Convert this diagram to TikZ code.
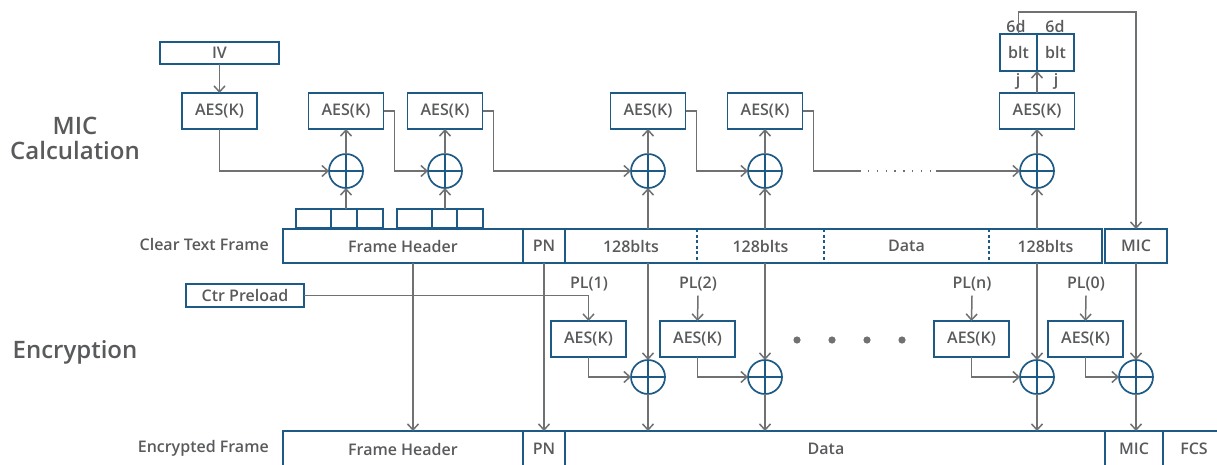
\documentclass[tikz,border=0pt]{standalone}
\usepackage{fontspec}
\IfFontExistsTF{Open Sans SemiBold}{\setmainfont{Open Sans SemiBold}}{%
  \IfFontExistsTF{Open Sans Semibold}{\setmainfont{Open Sans Semibold}}{%
    \setmainfont{Open Sans}[UprightFont=* Bold]}}
\usetikzlibrary{arrows.meta,calc}
\definecolor{bx}{HTML}{1D5A86}
\definecolor{ln}{HTML}{707173}
\definecolor{tx}{HTML}{595A5C}
\begin{document}
\begin{tikzpicture}[x=1pt,y=-1pt,
  font=\fontsize{16}{18}\selectfont, text=tx,
  box/.style={draw=bx,line width=1.7pt,inner sep=0pt,outer sep=0pt,fill=white},
  aes/.style={box,minimum width=75pt,minimum height=36pt},
  cell/.style={inner sep=0pt,outer sep=0pt,minimum height=34pt},
  frame/.style={draw=bx,line width=1.7pt},
  xor/.style={circle,draw=bx,line width=1.7pt,minimum size=34pt,inner sep=0pt,outer sep=0pt,
    path picture={\draw[bx,line width=1.7pt] (path picture bounding box.north)--(path picture bounding box.south)
      (path picture bounding box.west)--(path picture bounding box.east);}},
  arr/.style={draw=ln,line width=1.5pt,-{Straight Barb[length=6pt,width=11pt,line width=1.5pt]}},
  lnk/.style={draw=ln,line width=1.5pt},
  title/.style={font=\fontsize{24}{25}\selectfont,align=center},
]
\useasboundingbox (0,0) rectangle (1217,464);
\clip (0,0) rectangle (1217,464);

% ---------- left labels ----------
\node[title] (tmic) at (75,138) {MIC\\Calculation};
\node[title] (tenc) at (75,352) {Encryption};
\node[anchor=east,inner sep=0pt] (lct) at (269,244) {Clear Text Frame};
\node[anchor=east,inner sep=0pt] (lef) at (269,448) {Encrypted Frame};

% ---------- MIC calculation ----------
\node[box,minimum width=119pt,minimum height=22pt] (iv) at (219.5,53) {IV};
\node[aes] (m1) at (219.5,111) {AES(K)};
\node[aes] (m2) at (346,111) {AES(K)};
\node[aes] (m3) at (445,111) {AES(K)};
\node[aes] (m4) at (648,111) {AES(K)};
\node[aes] (m5) at (765,111) {AES(K)};
\node[aes] (m6) at (1037,111) {AES(K)};

\node[xor] (x1) at (346,171) {};
\node[xor] (x2) at (445,171) {};
\node[xor] (x3) at (648,171) {};
\node[xor] (x4) at (765,171) {};
\node[xor] (x6) at (1037,171) {};

\node[box,minimum width=37pt,minimum height=37pt] (bl1) at (1018.5,52.5) {blt};
\node[box,minimum width=37pt,minimum height=37pt] (bl2) at (1055.5,52.5) {blt};
\node[inner sep=0pt] (d6a) at (1016,26) {6d};
\node[inner sep=0pt] (d6b) at (1055,26) {6d};
\node[inner sep=0pt] (ja) at (1018,81) {j};
\node[inner sep=0pt] (jb) at (1056,81) {j};

% small header cells
\node[box,minimum width=35pt,minimum height=19pt] (ca1) at (313.5,218.5) {};
\node[box,minimum width=26pt,minimum height=19pt] (ca2) at (344,218.5) {};
\node[box,minimum width=26pt,minimum height=19pt] (ca3) at (370,218.5) {};
\node[box,minimum width=35pt,minimum height=19pt] (cb1x) at (414.5,218.5) {};
\node[box,minimum width=25pt,minimum height=19pt] (cb2x) at (444.5,218.5) {};
\node[box,minimum width=26pt,minimum height=19pt] (cb3x) at (470,218.5) {};

% clear text frame
\node[cell,minimum width=240pt] (cfh) at (403,246) {Frame Header};
\node[cell,minimum width=42pt] (cpn) at (544,246) {PN};
\node[cell,minimum width=132pt] (cb1) at (631,246) {128blts};
\node[cell,minimum width=127pt] (cb2) at (760.5,246) {128blts};
\node[cell,minimum width=165pt] (cdt) at (906.5,246) {Data};
\node[cell,minimum width=113pt] (cb3) at (1045.5,246) {128blts};
\draw[frame] (cfh.north west) rectangle (cb3.south east);
\draw[frame] (cfh.north east) -- (cfh.south east) (cpn.north east) -- (cpn.south east);
\draw[frame,dash pattern=on 3pt off 2.5pt] (cb1.north east) -- (cb1.south east)
  (cb2.north east) -- (cb2.south east) (cdt.north east) -- (cdt.south east);
\node[box,minimum width=62pt,minimum height=34pt] (cmic) at (1136,246) {MIC};

% MIC connectors
\draw[arr] (iv.south) -- (m1.north);
\draw[arr] (m1.south) |- (x1.west);
\draw[arr] (x1 |- ca2.north) -- (x1.south);
\draw[arr] (x1.north) -- (m2.south);
\draw[arr] (m2.east) -- ++(11,0) |- (x2.west);
\draw[arr] (x2 |- cb2x.north) -- (x2.south);
\draw[arr] (x2.north) -- (m3.south);
\draw[arr] (m3.east) -- ++(11,0) |- (x3.west);
\draw[arr] (x3 |- cb1.north) -- (x3.south);
\draw[arr] (x3.north) -- (m4.south);
\draw[arr] (m4.east) -- ++(11,0) |- (x4.west);
\draw[arr] (x4 |- cb2.north) -- (x4.south);
\draw[arr] (x4.north) -- (m5.south);
\coordinate (dA) at (861,171);
\coordinate (dB) at (936,171);
\draw[lnk] (m5.east) -- ++(11,0) |- (dA);
\draw[draw=ln,line width=1.5pt,dash pattern=on 1.4pt off 7.4pt] ([xshift=7pt]dA) -- (dB);
\draw[arr] (dB) -- (x6.west);
\draw[arr] (x6 |- cb3.north) -- (x6.south);
\draw[arr] (x6.north) -- (m6.south);
\draw[arr] (m6.north) -- (m6.north |- bl1.south);
\coordinate (topc) at (1136,12);
\draw[arr] (bl1.north) |- (topc) -- (cmic.north);

% ---------- Encryption ----------
\node[box,minimum width=118pt,minimum height=23pt] (ctr) at (245,295.5) {Ctr Preload};

\node[aes] (e1) at (588.5,339) {AES(K)};
\node[aes] (e2) at (697.5,339) {AES(K)};
\node[aes] (en) at (971.5,339) {AES(K)};
\node[aes] (e0) at (1085.5,339) {AES(K)};

\node[inner sep=0pt] (pl1) at (589,284) {PL(1)};
\node[inner sep=0pt] (pl2) at (698,284) {PL(2)};
\node[inner sep=0pt] (pln) at (972,284) {PL(n)};
\node[inner sep=0pt] (pl0) at (1086,284) {PL(0)};

\node[xor] (y1) at (648,377) {};
\node[xor] (y2) at (765,377) {};
\node[xor] (yn) at (1037,377) {};
\node[xor] (y0) at (1136,377) {};

\foreach \xx [count=\i] in {797,832,867,902}
  \fill[ln] (\xx,340) circle (3.6pt);

% encrypted frame
\node[cell,minimum width=240pt,minimum height=36pt] (efh) at (403,449) {Frame Header};
\node[cell,minimum width=42pt,minimum height=36pt] (epn) at (544,449) {PN};
\node[cell,minimum width=540pt,minimum height=36pt] (edt) at (835,449) {};
\node[inner sep=0pt] (edtx) at (826,449) {Data};
\node[cell,minimum width=58pt,minimum height=36pt] (emic) at (1134,449) {MIC};
\node[cell,minimum width=62pt,minimum height=36pt] (efcs) at (1194,449) {FCS};
\draw[frame] (efh.south west) -- (efh.north west) -- (efcs.north east);
\draw[frame] (efh.north east) -- (efh.south east) (epn.north east) -- (epn.south east)
  (edt.north east) -- (edt.south east) (emic.north east) -- (emic.south east);

% encryption connectors
\draw[arr] (ctr.east) -| (e1.north);
\draw[arr] (pl2 |- ctr.east) -- (e2.north);
\draw[arr] (pln |- ctr.east) -- (en.north);
\draw[arr] (pl0 |- ctr.east) -- (e0.north);
\draw[arr] (e1.south) |- (y1.west);
\draw[arr] (e2.south) |- (y2.west);
\draw[arr] (en.south) |- (yn.west);
\draw[arr] (e0.south) |- (y0.west);
\draw[arr] ([xshift=10pt]cfh.south) -- ([xshift=10pt]efh.north);
\draw[arr] (cpn.south) -- (epn.north);
\draw[arr] (y1 |- cb1.south) -- (y1.north);
\draw[arr] (y2 |- cb2.south) -- (y2.north);
\draw[arr] (yn |- cb3.south) -- (yn.north);
\draw[arr] (y0 |- cmic.south) -- (y0.north);
\draw[arr] (y1.south) -- (y1 |- edt.north);
\draw[arr] (y2.south) -- (y2 |- edt.north);
\draw[arr] (yn.south) -- (yn |- edt.north);
\draw[arr] (y0.south) -- (y0 |- emic.north);
\end{tikzpicture}
\end{document}
